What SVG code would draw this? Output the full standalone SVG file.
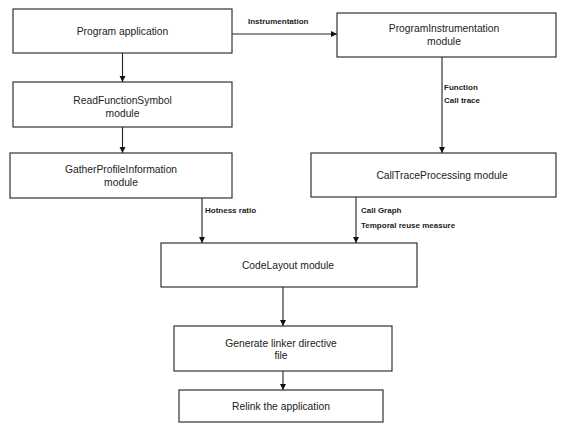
<svg xmlns="http://www.w3.org/2000/svg" width="569" height="423" viewBox="0 0 569 423">
<style>
.box{fill:#fff;stroke:#333;stroke-width:1.2}
.t{font-family:"Liberation Sans",Arial,sans-serif;font-size:10.3px;fill:#222;text-anchor:middle}
.l{font-family:"Liberation Sans",Arial,sans-serif;font-size:8px;font-weight:bold;fill:#222}
.c{stroke:#222;stroke-width:1.1;fill:none;marker-end:url(#ah)}
</style>
<defs>
<marker id="ah" markerUnits="userSpaceOnUse" markerWidth="7" markerHeight="7" refX="6" refY="3" orient="auto">
<path d="M0,0 L6,3 L0,6 z" fill="#111"/>
</marker>
</defs>
<rect width="569" height="423" fill="#fff"/>
<g id="connectors">
<line class="c" x1="122.5" y1="53" x2="122.5" y2="82"/>
<line class="c" x1="122.5" y1="127" x2="122.5" y2="153"/>
<line class="c" x1="232" y1="34" x2="337" y2="34"/>
<line class="c" x1="442" y1="57" x2="442" y2="153"/>
<line class="c" x1="202" y1="198" x2="202" y2="243"/>
<line class="c" x1="356" y1="197" x2="356" y2="243"/>
<line class="c" x1="283" y1="287" x2="283" y2="326"/>
<line class="c" x1="283" y1="371" x2="283" y2="390"/>
<text class="l" x="248" y="24">Instrumentation</text>
<text class="l" x="444" y="90">Function</text>
<text class="l" x="444" y="103">Call trace</text>
<text class="l" x="205" y="213">Hotness ratio</text>
<text class="l" x="361" y="213">Call Graph</text>
<text class="l" x="361" y="228">Temporal reuse measure</text>
</g>
<g id="n1"><rect class="box" x="13" y="9" width="219" height="44"/><text class="t" x="122.5" y="35">Program application</text></g>
<g id="n2"><rect class="box" x="13" y="82" width="219" height="45"/><text class="t" x="122.5" y="104">ReadFunctionSymbol</text><text class="t" x="122.5" y="117">module</text></g>
<g id="n3"><rect class="box" x="10" y="153" width="222" height="45"/><text class="t" x="121" y="172.5">GatherProfileInformation</text><text class="t" x="121" y="185.5">module</text></g>
<g id="n4"><rect class="box" x="337" y="13" width="219" height="44"/><text class="t" x="444" y="31.5">ProgramInstrumentation</text><text class="t" x="444" y="44.5">module</text></g>
<g id="n5"><rect class="box" x="311" y="153" width="245" height="44"/><text class="t" x="442" y="178.5">CallTraceProcessing module</text></g>
<g id="n6"><rect class="box" x="161" y="243" width="256" height="44"/><text class="t" x="288" y="268.5">CodeLayout module</text></g>
<g id="n7"><rect class="box" x="174" y="326" width="218" height="45"/><text class="t" x="281" y="346.5">Generate linker directive</text><text class="t" x="281" y="358.5">file</text></g>
<g id="n8"><rect class="box" x="179" y="390" width="204" height="32"/><text class="t" x="281" y="410">Relink the application</text></g>
</svg>
